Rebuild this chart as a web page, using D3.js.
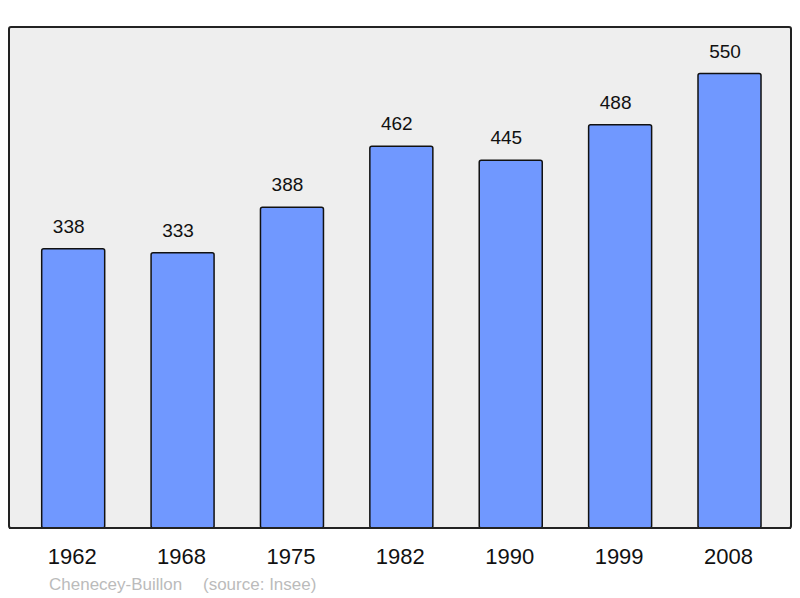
<!DOCTYPE html>
<html><head><meta charset="utf-8">
<script src="https://cdn.jsdelivr.net/npm/d3@7"></script>
<style>body{margin:0;background:#fff}svg{display:block}</style>
</head><body>
<svg id="c" width="800" height="598"></svg>
<script>
const years = ["1962","1968","1975","1982","1990","1999","2008"];
const population = [338,333,388,462,445,488,550];
const place = "Chenecey-Buillon";
const source = "(source: Insee)";

const svg = d3.select("#c");
const frame = {x0:9, y0:27, x1:791, y1:528};
svg.append("rect").attr("x",frame.x0).attr("y",frame.y0)
  .attr("width",frame.x1-frame.x0).attr("height",frame.y1-frame.y0)
  .attr("rx",2).attr("fill","#eeeeee").attr("stroke","#222").attr("stroke-width",2);

const x = d3.scaleBand().domain(years).range([18.5,784.2]).paddingInner(0.424).paddingOuter(0.212);
const y = d3.scaleLinear().domain([0,550]).range([528,73.5]);

svg.selectAll("rect.bar").data(population).join("rect").attr("class","bar")
  .attr("x",(d,i)=>x(years[i])).attr("y",d=>y(d))
  .attr("width",x.bandwidth()).attr("height",d=>y(0)-y(d))
  .attr("rx",2).attr("fill","#7098ff").attr("stroke","#111").attr("stroke-width",1.5);

svg.append("line").attr("x1",frame.x0).attr("x2",frame.x1).attr("y1",frame.y1).attr("y2",frame.y1)
  .attr("stroke","#222").attr("stroke-width",2);

svg.selectAll("text.val").data(population).join("text").attr("class","val")
  .attr("x",(d,i)=>x(years[i])+x.bandwidth()/2-4.5).attr("y",d=>y(d)-16)
  .attr("text-anchor","middle").attr("font-family","Liberation Sans, Arial, sans-serif")
  .attr("font-size",19).attr("fill","#111").text(d=>d);

svg.selectAll("text.yr").data(years).join("text").attr("class","yr")
  .attr("x",d=>x(d)+x.bandwidth()/2-1).attr("y",564)
  .attr("text-anchor","middle").attr("font-family","Liberation Sans, Arial, sans-serif")
  .attr("font-size",22).attr("fill","#111").text(d=>d);

svg.append("text").attr("x",49).attr("y",590).attr("font-family","Liberation Sans, Arial, sans-serif")
  .attr("font-size",17).attr("fill","#bbbbbb").text(place);
svg.append("text").attr("x",203).attr("y",590).attr("font-family","Liberation Sans, Arial, sans-serif")
  .attr("font-size",17).attr("fill","#bbbbbb").text(source);
</script>
</body></html>
